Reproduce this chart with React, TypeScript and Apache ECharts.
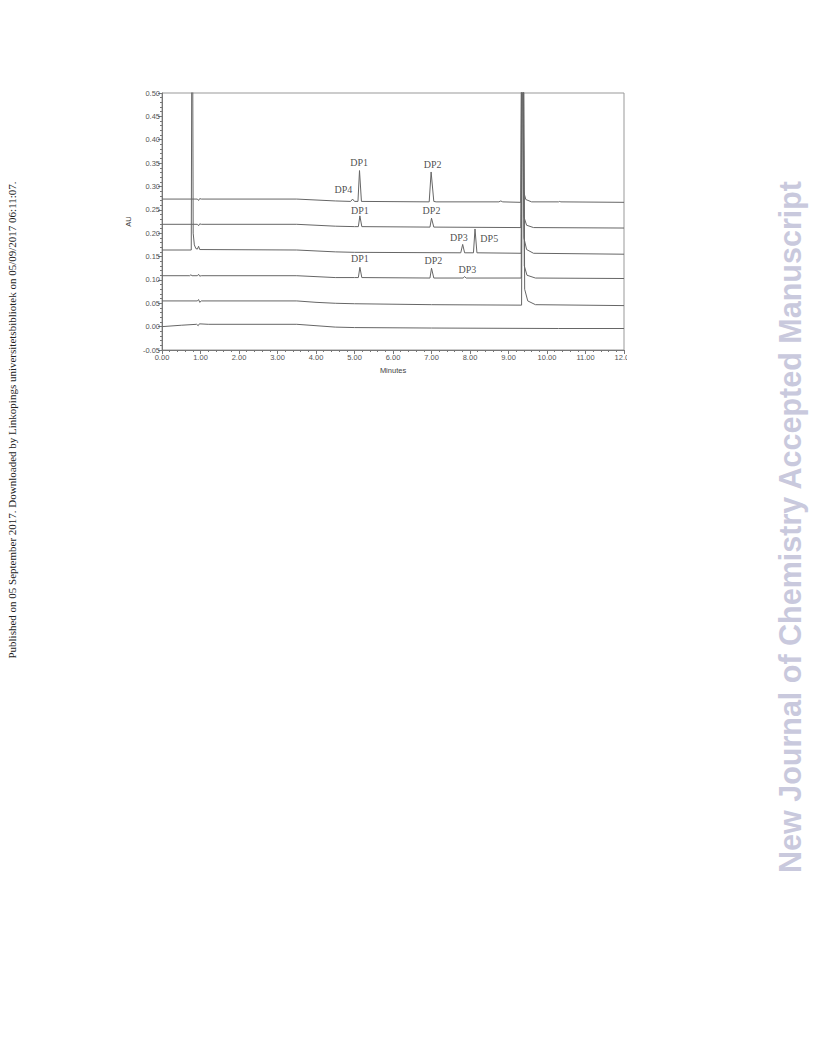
import React, { useEffect, useRef } from "react";
import * as echarts from "echarts";

type P = [number, number];

const trace1: P[] = [
  [0, 0.273], [0.92, 0.273], [0.95, 0.270], [0.98, 0.274], [1.02, 0.273], [3.5, 0.273], [4.0, 0.271],
  [4.5, 0.269], [4.9, 0.268], [4.95, 0.273], [5.0, 0.268], [5.09, 0.268], [5.13, 0.334], [5.18, 0.268],
  [6.94, 0.267], [6.99, 0.331], [7.06, 0.268], [7.12, 0.267], [8.75, 0.267], [8.8, 0.269], [8.85, 0.267],
  [9.32, 0.266], [9.355, 0.95], [9.39, 0.29], [9.45, 0.272], [9.6, 0.267], [10.3, 0.267], [10.33, 0.268],
  [10.36, 0.267], [12, 0.266],
];
const trace2: P[] = [
  [0, 0.219], [0.92, 0.219], [0.95, 0.216], [0.98, 0.220], [1.02, 0.219], [3.5, 0.219], [4.0, 0.217],
  [4.5, 0.215], [5.0, 0.214], [5.1, 0.214], [5.14, 0.237], [5.19, 0.214], [6.96, 0.213], [7.0, 0.232],
  [7.06, 0.213], [9.32, 0.212], [9.36, 0.95], [9.40, 0.235], [9.47, 0.217], [9.65, 0.212], [12, 0.211],
];
const trace3: P[] = [
  [0, 0.164], [0.76, 0.164], [0.785, 0.95], [0.81, 0.20], [0.84, 0.175], [0.88, 0.167], [0.92, 0.166],
  [0.95, 0.172], [0.98, 0.165], [3.5, 0.164], [4.0, 0.162], [4.5, 0.160], [5.0, 0.159], [7.76, 0.158],
  [7.81, 0.176], [7.86, 0.158], [8.09, 0.158], [8.13, 0.209], [8.18, 0.158], [9.33, 0.157], [9.365, 0.95],
  [9.40, 0.19], [9.47, 0.165], [9.65, 0.157], [12, 0.155],
];
const trace4: P[] = [
  [0, 0.109], [0.72, 0.109], [0.75, 0.111], [0.78, 0.109], [0.92, 0.109], [0.95, 0.112], [0.98, 0.108],
  [1.02, 0.109], [3.5, 0.109], [4.0, 0.107], [4.5, 0.105], [5.0, 0.105], [5.10, 0.105], [5.14, 0.127],
  [5.19, 0.105], [6.96, 0.104], [7.0, 0.125], [7.06, 0.104], [7.82, 0.104], [7.86, 0.107], [7.9, 0.104],
  [9.33, 0.104], [9.37, 0.95], [9.41, 0.13], [9.48, 0.11], [9.7, 0.104], [12, 0.103],
];
const trace5: P[] = [
  [0, 0.055], [0.92, 0.055], [0.95, 0.058], [0.98, 0.052], [1.02, 0.055], [3.5, 0.055], [4.0, 0.052],
  [4.5, 0.050], [5.0, 0.049], [7.0, 0.047], [9.34, 0.046], [9.375, 0.95], [9.42, 0.08], [9.5, 0.055],
  [9.7, 0.047], [12, 0.045],
];
const trace6: P[] = [
  [0, 0.0], [0.5, 0.003], [0.9, 0.005], [0.94, 0.002], [0.97, 0.006], [1.2, 0.005], [3.5, 0.005],
  [4.0, 0.002], [4.5, -0.001], [5.0, -0.002], [7.0, -0.003], [10.3, -0.004], [12, -0.004],
];
const traces: P[][] = [trace1, trace2, trace3, trace4, trace5, trace6];

// peak annotations: [minutes, AU, label]
const peakLabels: [number, number, string][] = [
  [5.12, 0.351, "DP1"],
  [7.03, 0.346, "DP2"],
  [4.71, 0.293, "DP4"],
  [5.14, 0.248, "DP1"],
  [7.0, 0.248, "DP2"],
  [7.71, 0.191, "DP3"],
  [8.5, 0.188, "DP5"],
  [5.14, 0.146, "DP1"],
  [7.05, 0.141, "DP2"],
  [7.93, 0.123, "DP3"],
];

const xMin = 0, xMax = 12, xStep = 1;
const yMin = -0.05, yMax = 0.5, yStep = 0.05;

const sideNote =
  "Published on 05 September 2017. Downloaded by Linkopings universitetsbibliotek on 05/09/2017 06:11:07.";
const watermark = "New Journal of Chemistry Accepted Manuscript";

export default function App() {
  const ref = useRef<HTMLDivElement>(null);
  useEffect(() => {
    if (!ref.current) return;
    const chart = echarts.init(ref.current, null, { renderer: "svg" });
    const tickFont = { fontFamily: "Liberation Sans", fontSize: 7.5, color: "#555" };
    chart.setOption({
      animation: false,
      grid: {
        left: 162, top: 93, right: 192, bottom: 706,
        show: true, borderColor: "#999", borderWidth: 1, backgroundColor: "transparent",
      },
      xAxis: {
        type: "value", min: xMin, max: xMax, interval: xStep,
        name: "Minutes", nameLocation: "middle", nameGap: 16,
        nameTextStyle: { fontFamily: "Liberation Sans", fontSize: 7.5, color: "#444" },
        axisLine: { show: true, onZero: false, lineStyle: { color: "#777", width: 1 } },
        axisTick: { show: true, inside: false, length: 4, lineStyle: { color: "#777" } },
        minorTick: { show: true, splitNumber: 5, length: 2, lineStyle: { color: "#777" } },
        splitLine: { show: false },
        axisLabel: { ...tickFont, margin: 3, formatter: (v: number) => v.toFixed(2) },
      },
      yAxis: {
        type: "value", min: yMin, max: yMax, interval: yStep,
        name: "AU", nameLocation: "middle", nameGap: 26,
        nameTextStyle: { fontFamily: "Liberation Sans", fontSize: 7.5, color: "#444" },
        axisLine: { show: true, onZero: false, lineStyle: { color: "#777", width: 1 } },
        axisTick: { show: true, inside: false, length: 4, lineStyle: { color: "#777" } },
        minorTick: { show: true, splitNumber: 5, length: 2, lineStyle: { color: "#777" } },
        splitLine: { show: false },
        axisLabel: { ...tickFont, margin: 2, formatter: (v: number) => v.toFixed(2) },
      },
      series: [
        ...traces.map((t) => ({
          type: "line",
          data: t,
          showSymbol: false,
          symbol: "none",
          clip: true,
          lineStyle: { color: "#666", width: 1 },
          silent: true,
        })),
        {
          type: "scatter",
          data: peakLabels.map((p) => ({ value: [p[0], p[1]], name: p[2] })),
          symbolSize: 1,
          itemStyle: { color: "rgba(0,0,0,0)" },
          label: {
            show: true, position: "inside",
            formatter: (p: any) => p.name,
            fontFamily: "Liberation Serif", fontSize: 10, color: "#222",
          },
          silent: true,
        },
      ],
      graphic: [
        {
          type: "rect", left: 627, top: 352, shape: { width: 30, height: 14 },
          style: { fill: "#fff" }, z: 100,
        },
        {
          type: "text", x: 12, y: 420, rotation: Math.PI / 2,
          style: {
            text: sideNote, font: '11px "Liberation Serif"', fill: "#222",
            align: "center", verticalAlign: "middle",
          },
        },
        {
          type: "text", x: 790, y: 527, rotation: Math.PI / 2,
          style: {
            text: watermark, font: 'bold 30.5px "Liberation Sans"', fill: "#c9c9dd",
            align: "center", verticalAlign: "middle",
          },
        },
      ],
    });
    return () => chart.dispose();
  }, []);
  return (
    <div
      ref={ref}
      style={{ position: "absolute", left: 0, top: 0, width: 816, height: 1056, background: "#fff" }}
    />
  );
}
